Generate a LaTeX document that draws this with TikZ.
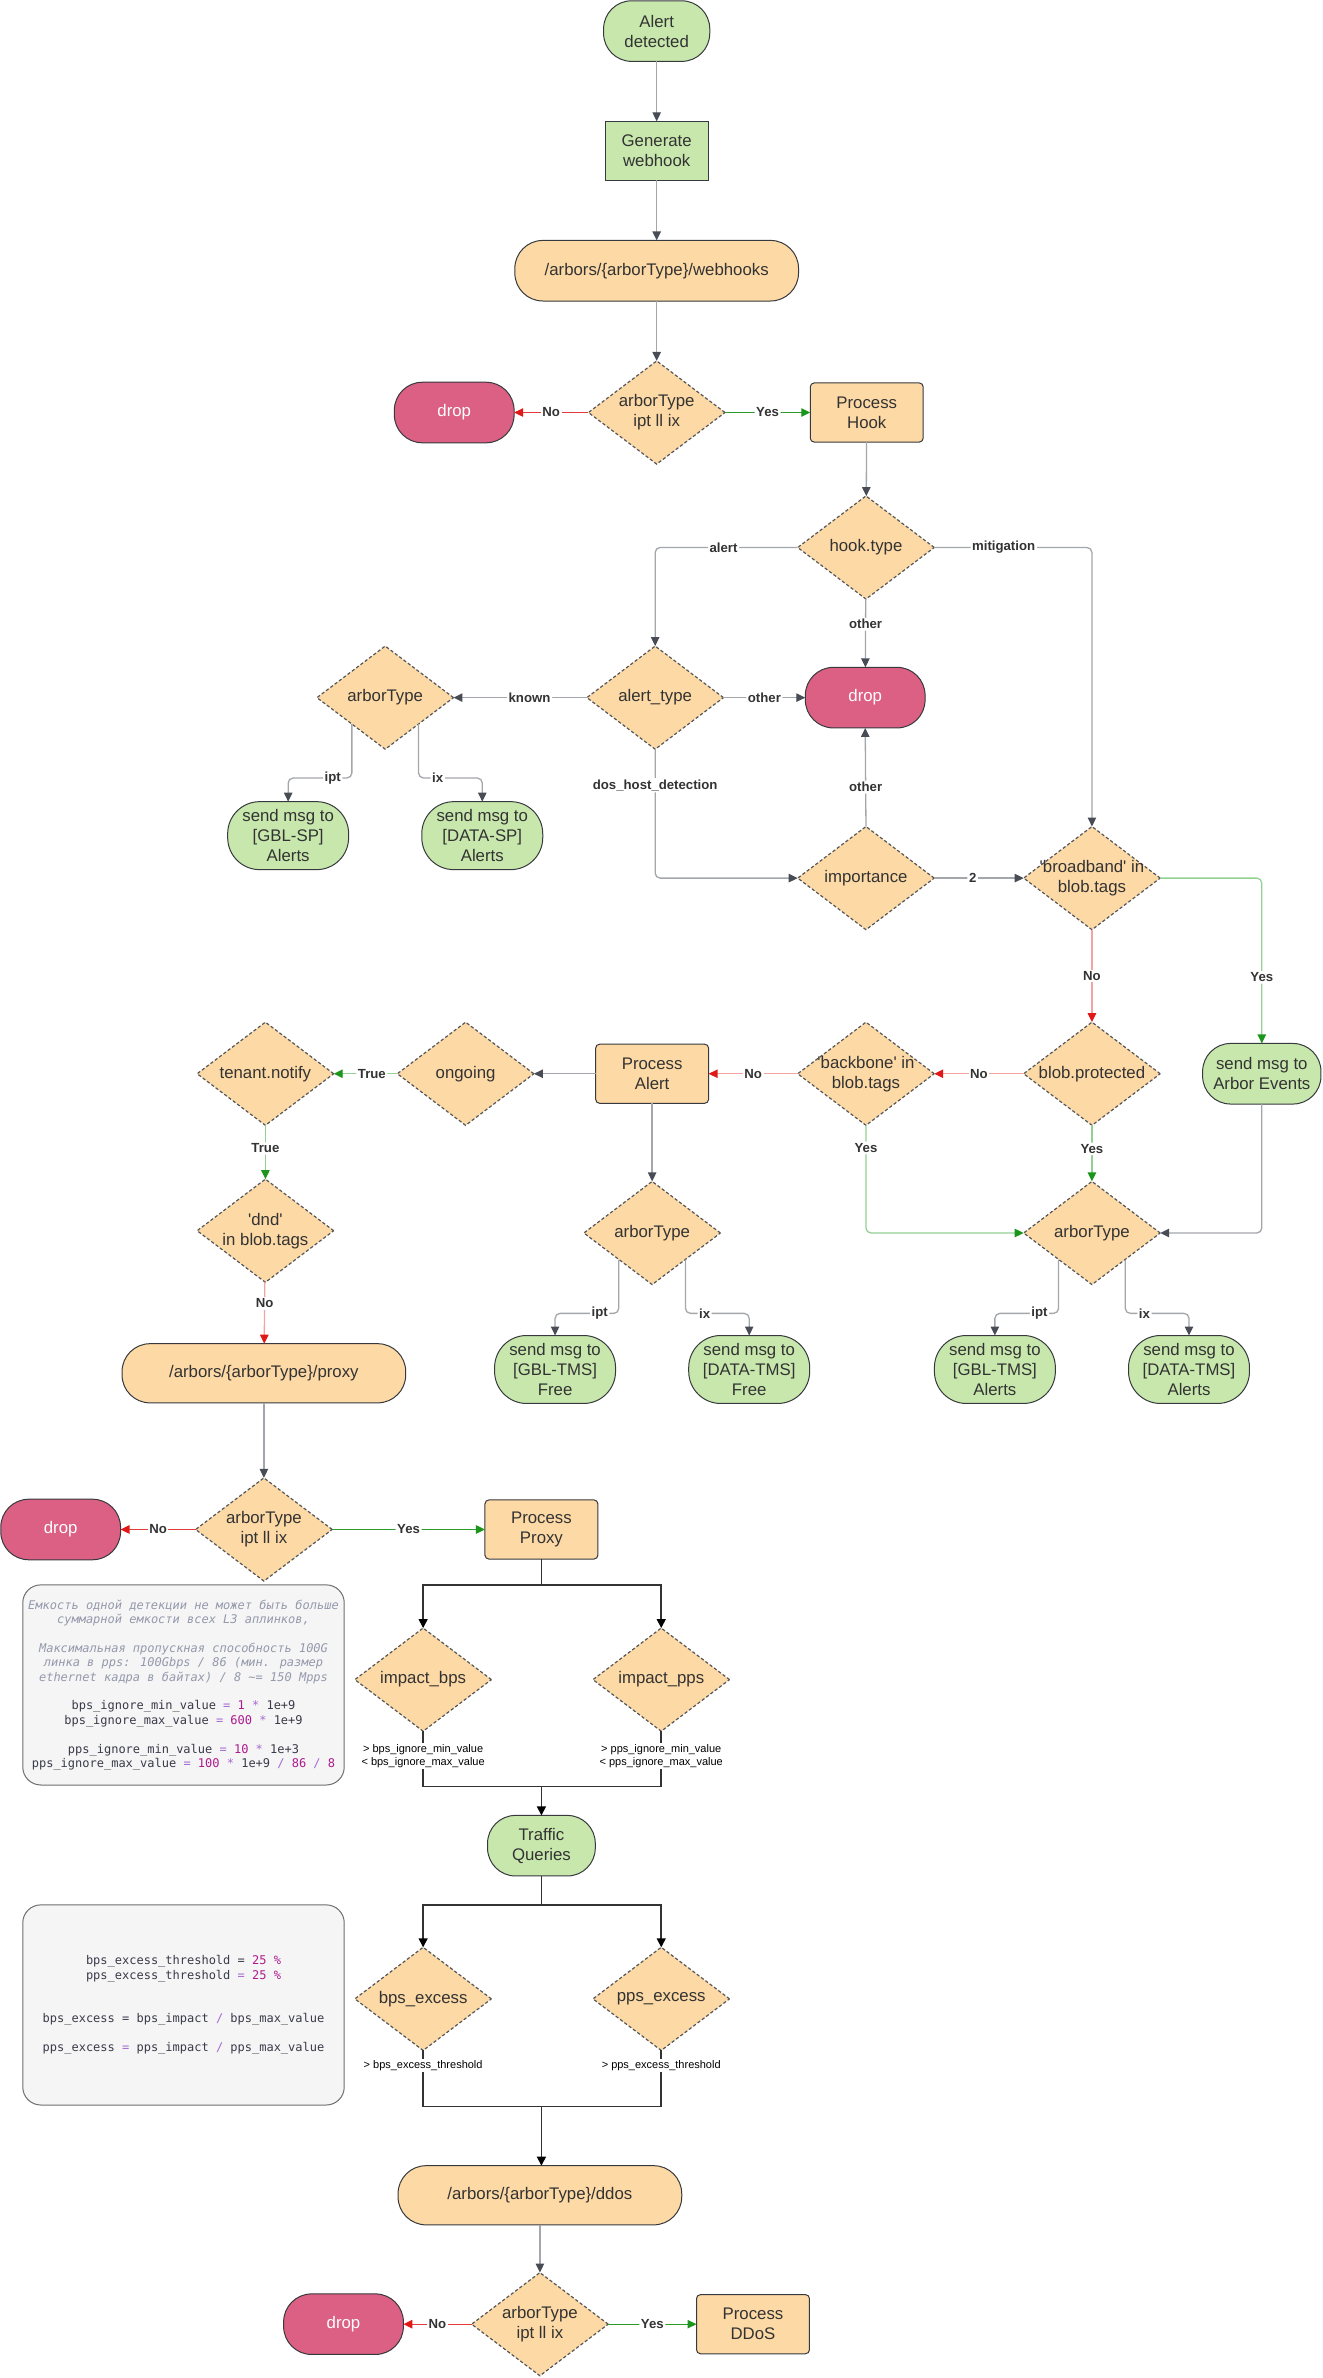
\documentclass[tikz,border=0pt]{standalone}
\usepackage{fontspec}
\setmainfont{Liberation Sans}
\newfontfamily\codefont{DejaVu Sans Mono}
\usetikzlibrary{shapes.geometric,arrows.meta,calc}
\definecolor{ofill}{HTML}{FDD9A5}
\definecolor{gfill}{HTML}{C8E7AD}
\definecolor{dfill}{HTML}{DC5F84}
\definecolor{edge}{HTML}{36393D}
\definecolor{txt}{HTML}{333333}
\definecolor{gline}{HTML}{A3A6AB}
\definecolor{ghead}{HTML}{474C55}
\definecolor{rline}{HTML}{E33B3B}
\definecolor{rlight}{HTML}{F4A3A3}
\definecolor{rhead}{HTML}{E01818}
\definecolor{grline}{HTML}{2A9A2A}
\definecolor{grlight}{HTML}{93D193}
\definecolor{grhead}{HTML}{1B951B}
\definecolor{notefill}{HTML}{F5F5F5}
\definecolor{notedraw}{HTML}{6E6E6E}
\definecolor{ccom}{HTML}{9499AC}
\definecolor{ctext}{HTML}{3A3A4A}
\definecolor{cnum}{HTML}{AD1A8E}
\definecolor{cop}{HTML}{A569D1}
\newcommand\kop[1]{\textcolor{cop}{#1}}
\newcommand\knum[1]{\textcolor{cnum}{#1}}
\newcommand\cmline[1]{{\itshape\color{ccom}#1}}
\newcommand\sq{\textquotesingle}
\begin{document}
\begin{tikzpicture}[x=0.7586pt,y=-0.7586pt,
  base/.style={font=\fontsize{8.4}{10}\selectfont, text=txt, align=center, inner sep=0pt, outer sep=0pt},
  pill/.style={base, draw=edge, line width=0.5pt, rounded corners=14pt, minimum height=30.3pt},
  pillg/.style={pill, fill=gfill},
  pillo/.style={pill, fill=ofill},
  sendg/.style={pill, fill=gfill, minimum width=60.5pt, minimum height=34pt, rounded corners=16pt},
  dropn/.style={pill, fill=dfill, text=white, minimum width=59.9pt},
  boxo/.style={base, draw=edge, line width=0.5pt, fill=ofill, rounded corners=2pt, minimum width=56.5pt, minimum height=29.6pt},
  dt/.style={base},
  dia/.style={diamond, draw=edge!85, fill=ofill, dash pattern=on 1.6pt off 1.1pt, line width=0.6pt, minimum width=68.3pt, minimum height=51.6pt, inner sep=0pt, outer sep=0pt, label={[dt]center:{#1}}},
  tipg/.style={-{Triangle[length=4.5pt,width=4.2pt,color=ghead]}},
  gl/.style={draw=gline, line width=0.65pt, rounded corners=2.5pt, tipg},
  rl/.style={draw=rline, line width=0.65pt, -{Triangle[length=4.5pt,width=4.2pt,color=rhead]}},
  rll/.style={draw=rlight, line width=0.65pt, -{Triangle[length=4.5pt,width=4.2pt,color=rhead]}},
  gn/.style={draw=grline, line width=0.65pt, rounded corners=2.5pt, -{Triangle[length=4.5pt,width=4.2pt,color=grhead]}},
  gnl/.style={draw=grlight, line width=0.65pt, rounded corners=2.5pt, -{Triangle[length=4.5pt,width=4.2pt,color=grhead]}},
  bk/.style={draw=black!80, line width=0.75pt},
  bka/.style={bk, -{Triangle[length=4.5pt,width=4.5pt,color=black]}},
  lbl/.style={font=\fontsize{6.6}{7.5}\selectfont\bfseries, text=txt, fill=white, inner sep=0.8pt},
  cond/.style={font=\fontsize{5.5}{6.6}\selectfont, text=black, fill=white, align=center, inner sep=0.6pt},
  note/.style={draw=notedraw, fill=notefill, rounded corners=9pt, minimum width=160.8pt, minimum height=100.1pt, line width=0.5pt, align=center, inner sep=0pt, font=\codefont\fontsize{6}{7.2}\selectfont, text=ctext}
]
\useasboundingbox (0,0) rectangle (872,1568);

% ---------- top ----------
\node[pillg, minimum width=53.1pt] (alert) at (433,20.5) {Alert\\detected};
\node[base, draw=edge, line width=0.5pt, fill=gfill, minimum width=51.6pt, minimum height=29.6pt] (gen) at (433,99.5) {Generate\\webhook};
\node[pillo, minimum width=141.9pt] (wh) at (433,178.5) {/arbors/\{arborType\}/webhooks};
\node[dia={arborType\\ipt ll ix}] (d1) at (433,272) {};
\node[dropn] (drop1) at (299.5,272) {drop};
\node[boxo] (phook) at (571.5,272) {Process\\Hook};
\node[dia={hook.type}] (hook) at (571,361) {};
\node[dia={alert\_type}] (atype) at (432,460) {};
\node[dropn] (drop2) at (570.5,460) {drop};
\node[dia={arborType}] (asp) at (254,460) {};
\node[sendg] (gblsp) at (190,551) {send msg to\\{[GBL-SP]}\\Alerts};
\node[sendg] (datasp) at (318,551) {send msg to\\{[DATA-SP]}\\Alerts};
\node[dia={importance}] (imp) at (571,579) {};
\node[dia={\sq broadband\sq{} in\\blob.tags}] (bb) at (720,579) {};
\node[dia={blob.protected}] (bprot) at (720,708) {};
\node[pillg, minimum width=59.2pt] (aev) at (832,708) {send msg to\\Arbor Events};
\node[dia={\sq backbone\sq{} in\\blob.tags}] (bkb) at (571,708) {};
\node[boxo] (palert) at (430,708) {Process\\Alert};
\node[dia={ongoing}] (ongo) at (307,708) {};
\node[dia={tenant.notify}] (tn) at (175,708) {};
\node[dia={\sq dnd\sq\\in blob.tags}] (dnd) at (175,811.5) {};
\node[dia={arborType}] (at2) at (430,813) {};
\node[dia={arborType}] (at3) at (720,813) {};
\node[sendg] (gbltf) at (366,903) {send msg to\\{[GBL-TMS]}\\Free};
\node[sendg] (datatf) at (494,903) {send msg to\\{[DATA-TMS]}\\Free};
\node[sendg] (gblta) at (656,903) {send msg to\\{[GBL-TMS]}\\Alerts};
\node[sendg] (datata) at (784,903) {send msg to\\{[DATA-TMS]}\\Alerts};

% ---------- proxy ----------
\node[pillo, minimum width=141.9pt, minimum height=29.6pt] (proxy) at (174,905.5) {/arbors/\{arborType\}/proxy};
\node[dia={arborType\\ipt ll ix}] (d4) at (174,1008.5) {};
\node[dropn] (drop3) at (40,1008.5) {drop};
\node[boxo] (pproxy) at (357,1008.5) {Process\\Proxy};
\node[dia={impact\_bps}] (ibps) at (279,1107.5) {};
\node[dia={impact\_pps}] (ipps) at (436,1107.5) {};
\node[pillg, minimum width=53.9pt] (tq) at (357,1217) {Traffic\\Queries};
\node[dia={bps\_excess}] (bex) at (279,1318) {};
\node[dia={pps\_excess}] (pex) at (436,1318) {};
\node[pillo, minimum width=141.9pt, minimum height=29.6pt] (ddos) at (356,1447.5) {/arbors/\{arborType\}/ddos};
\node[dia={arborType\\ipt ll ix}] (d5) at (356,1532.5) {};
\node[dropn] (drop4) at (226.5,1532.5) {drop};
\node[boxo] (pddos) at (496.5,1532.5) {Process\\DDoS};

% ---------- notes ----------
\node[note] (n1) at (121,1111) {%
\cmline{Емкость одной детекции не может быть больше}\\
\cmline{суммарной емкости всех L3 аплинков,}\\[7.2pt]
\cmline{Максимальная пропускная способность 100G}\\
\cmline{линка в pps: 100Gbps / 86 (мин. размер}\\
\cmline{ethernet кадра в байтах) / 8 \textasciitilde= 150 Mpps}\\[7.2pt]
bps\_ignore\_min\_value \kop{=} \knum{1} \kop{*} 1e+9\\
bps\_ignore\_max\_value \kop{=} \knum{600} \kop{*} 1e+9\\[7.2pt]
pps\_ignore\_min\_value \kop{=} \knum{10} \kop{*} 1e+3\\
pps\_ignore\_max\_value \kop{=} \knum{100} \kop{*} 1e+9 \kop{/} \knum{86} \kop{/} \knum{8}};
\node[note] (n2) at (121,1322) {%
bps\_excess\_threshold = \knum{25} \knum{\%}\\
pps\_excess\_threshold \kop{=} \knum{25} \knum{\%}\\[14.4pt]
bps\_excess = bps\_impact \kop{/} bps\_max\_value\\[7.2pt]
pps\_excess \kop{=} pps\_impact \kop{/} pps\_max\_value};

% ---------- connectors ----------
\draw[gl] (alert) -- (gen);
\draw[gl] (gen) -- (wh);
\draw[gl] (wh) -- (d1);
\draw[rl] (d1) -- node[lbl]{No} (drop1);
\draw[gn] (d1) -- node[lbl]{Yes} (phook);
\draw[gl] (phook) -- (hook);
\draw[gl] (hook.west) -| node[lbl,pos=0.26]{alert} (atype.north);
\draw[gl] (hook.east) -| node[lbl,pos=0.22]{mitigation} (bb.north);
\draw[gl] (hook) -- node[lbl,pos=0.37]{other} (drop2);
\draw[gl] (atype) -- node[lbl,pos=0.43]{known} (asp);
\draw[gl] (atype) -- node[lbl]{other} (drop2);
\draw[gl] ($(asp.center)+(-22,17.5)$) -- ($(asp.center)+(-22,53)$) -| node[lbl,pos=0.15]{ipt} (gblsp.north);
\draw[gl] ($(asp.center)+(22,17.5)$) -- ($(asp.center)+(22,53)$) -| node[lbl,pos=0.15]{ix} (datasp.north);
\draw[gl] (atype.south) |- node[lbl,pos=0.14]{dos\_host\_detection} (imp.west);
\draw[gl] (imp.north) -- node[lbl,pos=0.4]{other} (drop2.south);
\draw[gl] (imp) -- node[lbl,pos=0.43]{2} (bb);
\draw[gnl] (bb.east) -| node[lbl,pos=0.8]{Yes} (aev.north);
\draw[rll] (bb) -- node[lbl]{No} (bprot);
\draw[rll] (bprot) -- node[lbl]{No} (bkb);
\draw[rll] (bkb) -- node[lbl]{No} (palert);
\draw[gnl] (bprot) -- node[lbl,pos=0.42]{Yes} (at3);
\draw[gnl] (bkb.south) |- node[lbl,pos=0.105]{Yes} (at3.west);
\draw[gl] (aev.south) |- (at3.east);
\draw[gl] (palert) -- (at2);
\draw[gl] (palert) -- (ongo);
\draw[gnl] (ongo) -- node[lbl,pos=0.4]{True} (tn);
\draw[gnl] (tn) -- node[lbl,pos=0.43]{True} (dnd);
\draw[rll] (dnd) -- node[lbl,pos=0.35]{No} (proxy);
\draw[gl] ($(at2.center)+(-22,17.5)$) -- ($(at2.center)+(-22,53)$) -| node[lbl,pos=0.15]{ipt} (gbltf.north);
\draw[gl] ($(at2.center)+(22,17.5)$) -- ($(at2.center)+(22,53)$) -| node[lbl,pos=0.15]{ix} (datatf.north);
\draw[gl] ($(at3.center)+(-22,17.5)$) -- ($(at3.center)+(-22,53)$) -| node[lbl,pos=0.15]{ipt} (gblta.north);
\draw[gl] ($(at3.center)+(22,17.5)$) -- ($(at3.center)+(22,53)$) -| node[lbl,pos=0.15]{ix} (datata.north);

\draw[gl] (proxy) -- (d4);
\draw[rl] (d4) -- node[lbl]{No} (drop3);
\draw[gn] (d4) -- node[lbl]{Yes} (pproxy);

\coordinate (j1) at (357,1045);
\draw[bk] (pproxy.south) -- (j1);
\draw[bka] (j1) -| (ibps.north);
\draw[bka] (j1) -| (ipps.north);
\coordinate (j2) at (357,1178);
\draw[bk] (ibps.south) |- (j2);
\draw[bk] (ipps.south) |- (j2);
\draw[bka] (j2) -- (tq.north);
\node[cond] (c1) at (279,1158) {> bps\_ignore\_min\_value\\< bps\_ignore\_max\_value};
\node[cond] (c2) at (436,1158) {> pps\_ignore\_min\_value\\< pps\_ignore\_max\_value};
\coordinate (j3) at (357,1256);
\draw[bk] (tq.south) -- (j3);
\draw[bka] (j3) -| (bex.north);
\draw[bka] (j3) -| (pex.north);
\coordinate (j4) at (357,1389);
\draw[bk] (bex.south) |- (j4);
\draw[bk] (pex.south) |- (j4);
\draw[bka] (j4) -- (j4 |- ddos.north);
\node[cond] (c3) at (279,1362) {> bps\_excess\_threshold};
\node[cond] (c4) at (436,1362) {> pps\_excess\_threshold};
\draw[gl] (ddos) -- (d5);
\draw[rl] (d5) -- node[lbl]{No} (drop4);
\draw[gn] (d5) -- node[lbl]{Yes} (pddos);
\end{tikzpicture}
\end{document}
